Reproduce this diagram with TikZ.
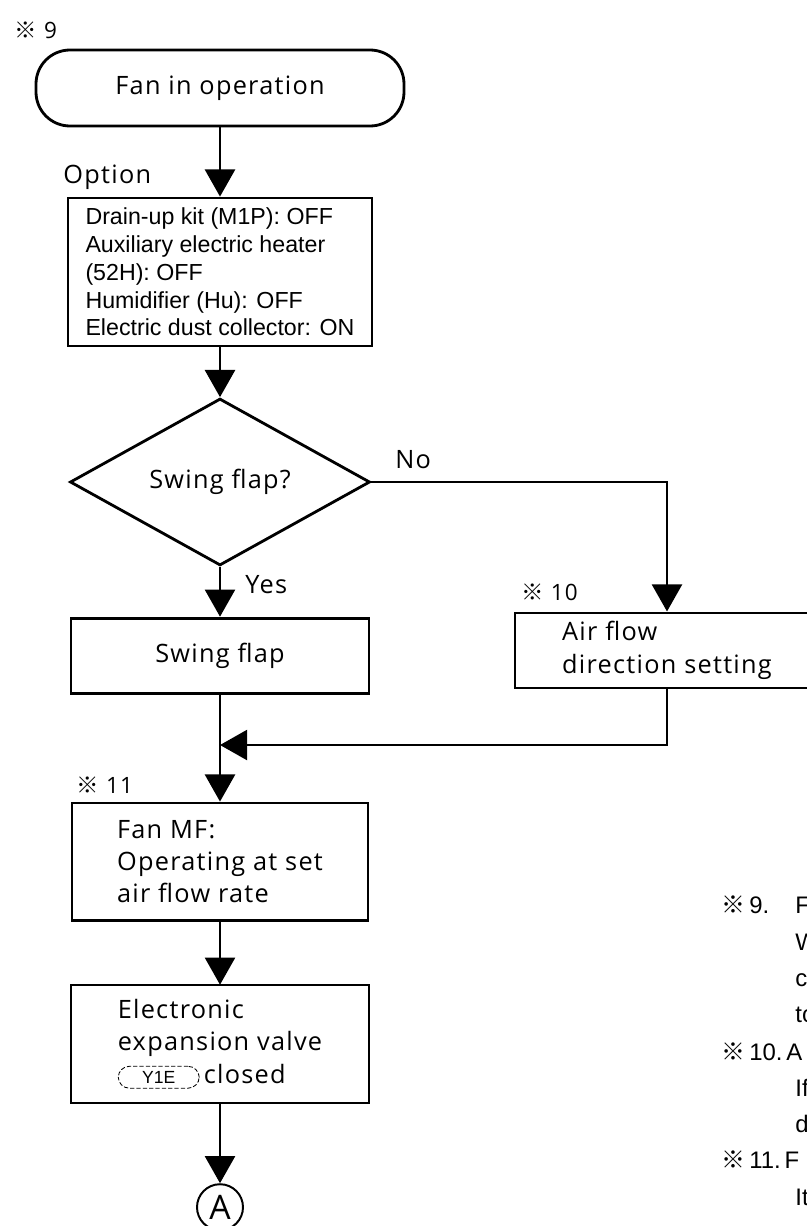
\documentclass[tikz,border=0pt]{standalone}
\usepackage{fontspec}
\setmainfont{Open Sans}[LetterSpace=5]
\newfontfamily\optfont{Liberation Sans}
\newfontfamily\markfont{Noto Sans CJK JP}
\usetikzlibrary{shapes.geometric, arrows.meta, positioning}

\newcommand{\refmark}{{\markfont ※}}
\newcommand{\tagbox}[1]{\tikz[baseline=(tg.base)]\node[draw, dashed, line width=0.6pt,
    dash pattern=on 3pt off 1.5pt,
    rounded corners=8pt, inner xsep=17pt, inner ysep=3.5pt,
    minimum width=0pt, minimum height=0pt, align=center,
    font=\optfont\fontsize{12.5}{12.5}\selectfont] (tg) {#1};}

\begin{document}
\begin{tikzpicture}[
    line width=2pt,
    term/.style={
        rectangle, rounded corners=0.85cm, draw,
        minimum width=9.2cm, minimum height=1.9cm,
        font=\fontsize{18}{23}\selectfont
    },
    proc/.style={
        rectangle, draw, align=left,
        font=\fontsize{18}{23}\selectfont
    },
    decision/.style={
        diamond, draw, inner sep=0pt,
        minimum width=7.5cm, minimum height=3.2cm,
        font=\fontsize{18}{23}\selectfont
    },
    arrow/.style={-{Triangle[width=0.75cm, length=0.68cm]}},
    lbl/.style={font=\fontsize{18}{22}\selectfont, inner sep=0pt},
    refnum/.style={font=\fontsize{16}{18}\selectfont, inner sep=0pt, anchor=west},
    note/.style={font=\optfont\fontsize{17}{20}\selectfont, inner sep=0pt, anchor=west},
]
\useasboundingbox (0,0) rectangle (20.175,-30.65);
\clip (0,0) rectangle (20.175,-30.65);

% Blocchi
\node[refnum] (m9) at (0.33,-0.75) {\refmark\ 9};
\node[term] (start) at (5.5,-2.2) {Fan in operation};
\node[lbl, anchor=west] (optlbl) at (1.55,-4.43) {Option};
\node[proc, font=\optfont\fontsize{16.5}{19.8}\selectfont,
      minimum width=7.6cm, minimum height=3.7cm] (opt) at (5.5,-6.8)
    {Drain-up kit (M1P): OFF\\Auxiliary electric heater\\(52H): OFF\\%
     Humidifier (Hu): OFF\\Electric dust collector: ON};
\node[decision] (dec) at (5.5,-12.05) {Swing flap?};
\node[proc, minimum width=7.45cm, minimum height=1.875cm] (swing) at (5.5,-16.39)
    {Swing flap};
\node[refnum] (m10) at (13.0,-14.8) {\refmark\ 10};
\node[proc, minimum width=7.6cm, minimum height=1.875cm] (air) at (16.675,-16.26)
    {Air flow\\direction setting};
\node[refnum] (m11) at (1.88,-19.63) {\refmark\ 11};
\node[proc, minimum width=7.4cm, minimum height=2.93cm] (fan) at (5.5,-21.54)
    {Fan MF:\\Operating at set\\air flow rate};
\node[proc, minimum width=7.45cm, minimum height=2.95cm] (valve) at (5.5,-26.1)
    {Electronic\\expansion valve\\\tagbox{Y1E}\,closed};
\node[circle, draw, line width=1.4pt, minimum size=1.15cm, inner sep=0pt,
      font=\fontsize{24}{24}\selectfont] (conA) at (5.5,-30.18) {A};

% Collegamenti
\draw[arrow] (start) -- (opt);
\draw[arrow] (opt) -- (dec);
\draw[arrow] (dec) -- (swing);
\node[lbl, anchor=west] (yes) at (6.1,-14.62) {Yes};
\coordinate (airx) at (air.north |- dec.east);
\draw[arrow] (dec.east) -- (airx) -- (air.north);
\node[lbl] (no) at (10.33,-11.5) {No};
\coordinate (join) at (5.5,-18.625);
\draw[arrow] (air.south) |- (join);
\draw[arrow] (swing) -- (fan);
\draw[arrow] (fan) -- (valve);
\draw[arrow] (valve) -- (conA);

% Note (tagliate a destra)
\node[note] (n9)  at (18.0,-22.63) {\refmark\,9.};
\node[note] (n9a) at (19.85,-22.63) {F};
\node[note] (n9b) at (19.85,-23.55) {W};
\node[note] (n9c) at (19.85,-24.5)  {c};
\node[note] (n9d) at (19.85,-25.38) {to};
\node[note] (n10) at (18.0,-26.3)   {\refmark\,10.\,A};
\node[note] (n10a) at (19.85,-27.2) {If};
\node[note] (n10b) at (19.85,-28.1) {d};
\node[note] (n11) at (18.0,-29.0)   {\refmark\,11.\,F};
\node[note] (n11a) at (19.85,-29.93) {It};

\end{tikzpicture}
\end{document}
